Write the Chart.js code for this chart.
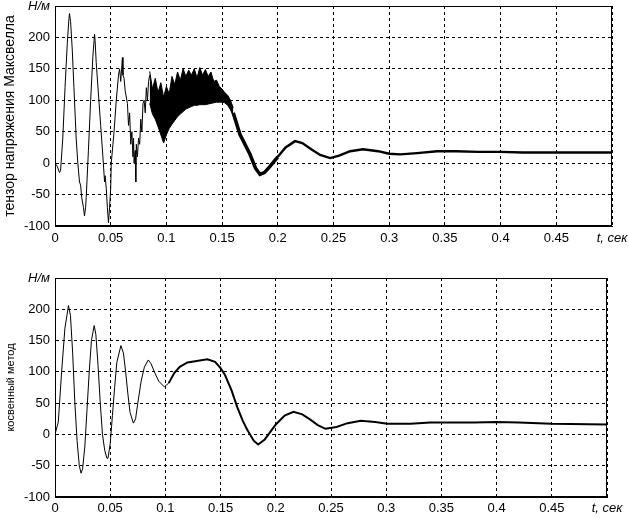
<!DOCTYPE html>
<html>
<head>
<meta charset="utf-8">
<script src="https://cdn.jsdelivr.net/npm/chart.js@4"></script>
<style>
  body { margin: 0; background: #fff; }
  .box { position: absolute; left: 0; width: 629px; }
  #top { top: 0; height: 258px; }
  #bot { top: 258px; height: 260px; }
</style>
</head>
<body>
<div class="box" id="top"><canvas id="maxwell"></canvas></div>
<div class="box" id="bot"><canvas id="indirect"></canvas></div>
<script>
/*
    DATOS
*/
// tensor de Maxwell: tramo inicial (linea fina)
const topEarlyT = [0, 0.002, 0.004, 0.005, 0.007, 0.009, 0.011, 0.0125, 0.013, 0.014, 0.0155, 0.017, 0.019, 0.0205,
  0.022, 0.023, 0.024, 0.0255, 0.0265, 0.0275, 0.028, 0.03, 0.032, 0.034, 0.0355, 0.036, 0.037, 0.039, 0.041, 0.043,
  0.0445, 0.045, 0.046, 0.047, 0.048, 0.049, 0.05, 0.0505, 0.052, 0.053, 0.055, 0.057, 0.058, 0.059, 0.06, 0.0605,
  0.061, 0.062, 0.063, 0.065, 0.066, 0.067, 0.068, 0.069, 0.07, 0.0705, 0.071, 0.072, 0.0725, 0.073, 0.074, 0.075,
  0.076, 0.077, 0.078, 0.079, 0.08, 0.081, 0.082, 0.083, 0.084, 0.085];
const topEarlyV = [0, -5, -15, -12, 40, 120, 190, 230, 238, 225, 180, 120, 40, 0,
  -30, -35, -55, -70, -84, -70, -55, 20, 100, 170, 205, 195, 160, 110, 60, 10,
  -30, -20, -40, -70, -95, -70, -40, 0, 30, 50, 100, 140, 150, 130, 155, 168,
  140, 135, 115, 95, 60, 80, 30, 50, 10, 40, 0, 20, -30, 30, 10, 40,
  30, 70, 50, 95, 100, 80, 120, 100, 130, 140];
// banda de ruido (envolventes superior e inferior)
const bandT = [0.085, 0.0875, 0.09, 0.0925, 0.095, 0.0975, 0.1, 0.1025, 0.105, 0.1075, 0.11, 0.1125, 0.115, 0.1175,
  0.12, 0.1225, 0.125, 0.1275, 0.13, 0.1325, 0.135, 0.1375, 0.14, 0.1425, 0.145, 0.1475, 0.15, 0.1525, 0.155, 0.1575, 0.16];
const bandHi = [146, 118, 135, 112, 128, 105, 122, 110, 138, 125, 145, 132, 150, 138,
  148, 140, 150, 136, 152, 140, 149, 138, 145, 130, 132, 122, 118, 112, 108, 100, 88];
const bandLo = [95, 78, 70, 58, 45, 32, 45, 55, 62, 68, 74, 78, 82, 86,
  88, 90, 92, 92, 93, 93, 93, 94, 95, 96, 97, 97, 97, 96, 92, 85, 75];
// tramo final (linea gruesa)
const topLateT = [0.16, 0.166, 0.175, 0.18, 0.184, 0.188, 0.193, 0.2, 0.207, 0.2155, 0.222, 0.23, 0.238, 0.247,
  0.255, 0.265, 0.2765, 0.29, 0.3, 0.31, 0.325, 0.343, 0.36, 0.38, 0.4, 0.42, 0.45, 0.5];
const topLateV = [80, 46, 14, -8, -18, -15, -5, 10, 25, 35, 32, 22, 13, 8,
  12, 19, 22, 19, 15, 14, 16, 19, 19, 18, 18, 17, 17, 17];

// metodo indirecto
const botT = [0, 0.003, 0.006, 0.009, 0.0122, 0.014, 0.016, 0.018, 0.02, 0.022, 0.0236, 0.025, 0.027, 0.029, 0.031,
  0.033, 0.0355, 0.037, 0.039, 0.041, 0.043, 0.045, 0.047, 0.048, 0.05, 0.052, 0.054, 0.056, 0.0597, 0.062, 0.064,
  0.066, 0.068, 0.071, 0.073, 0.075, 0.078, 0.081, 0.0845, 0.087, 0.09, 0.094, 0.099, 0.103, 0.108, 0.113, 0.12,
  0.127, 0.138, 0.145, 0.15, 0.154, 0.16, 0.165, 0.17, 0.174, 0.18, 0.184, 0.19, 0.2, 0.208, 0.216, 0.224, 0.231,
  0.238, 0.245, 0.255, 0.265, 0.277, 0.29, 0.301, 0.322, 0.34, 0.36, 0.38, 0.4, 0.42, 0.45, 0.5];
const botV = [0, 20, 100, 170, 206, 190, 130, 50, -10, -50, -62, -55, -20, 40, 100,
  150, 174, 160, 110, 50, 0, -25, -38, -38, -15, 30, 75, 115, 142, 130, 100,
  65, 35, 18, 25, 50, 85, 108, 119, 113, 100, 85, 76, 82, 98, 108, 115,
  117, 120, 116, 106, 95, 70, 44, 22, 8, -10, -16, -8, 16, 30, 36, 32, 24,
  15, 9, 12, 18, 22, 20, 17, 17, 19, 19, 19, 20, 19, 17, 16];

const xTickLabels = ['0', '0.05', '0.1', '0.15', '0.2', '0.25', '0.3', '0.35', '0.4', '0.45', 't, сек'];
const yTickLabels = ['-100', '-50', '0', '50', '100', '150', '200', 'Н/м'];

/*
    UTILIDADES
*/
const FONT = '"Liberation Sans", Arial, sans-serif';
const pts = (xs, ys) => xs.map((x, i) => ({ x, y: ys[i] }));

const frame = {
  id: 'frame',
  afterDraw(chart) {
    const { ctx, chartArea: a } = chart;
    ctx.save();
    ctx.strokeStyle = '#000';
    ctx.lineWidth = 1;
    ctx.strokeRect(a.left + 0.5, a.top + 0.5, a.right - a.left - 1, a.bottom - a.top - 1);
    ctx.restore();
  }
};

const lineDs = (data, width, extra) => Object.assign({
  data,
  borderColor: '#000',
  backgroundColor: '#000',
  borderWidth: width,
  pointRadius: 0,
  tension: 0,
  fill: false
}, extra || {});

const drawChart = (id, datasets, opt) => {
  const ctx = document.getElementById(id).getContext('2d');
  return new Chart(ctx, {
    type: 'line',
    data: { datasets },
    plugins: [frame],
    options: {
      responsive: true,
      maintainAspectRatio: false,
      animation: false,
      events: [],
      layout: { padding: { top: opt.padTop, right: opt.padRight, left: 0, bottom: 0 } },
      plugins: { legend: { display: false }, tooltip: { enabled: false } },
      scales: {
        x: {
          type: 'linear',
          min: 0,
          max: 0.5,
          grid: { color: '#000', lineWidth: 1, drawTicks: false },
          border: { color: '#000', dash: [3, 3] },
          ticks: {
            stepSize: 0.05,
            padding: opt.xPad,
            maxRotation: 0,
            autoSkip: false,
            color: '#000',
            font: (c) => ({ family: FONT, size: 13, style: c.index === 10 ? 'italic' : 'normal' }),
            callback: (v, i) => xTickLabels[i]
          },
          afterFit: (s) => { s.height = opt.xHeight; s.paddingLeft = 0; s.paddingRight = 0; }
        },
        y: {
          min: -100,
          max: 250,
          grid: { color: '#000', lineWidth: 1, drawTicks: false },
          border: { color: '#000', dash: [3, 3] },
          ticks: {
            stepSize: 50,
            padding: 5,
            color: '#000',
            font: (c) => ({ family: FONT, size: 13, style: c.index === 7 ? 'italic' : 'normal' }),
            callback: (v, i) => yTickLabels[i]
          },
          title: {
            display: true,
            text: opt.title,
            color: '#000',
            font: { family: FONT, size: opt.titleSize },
            padding: { top: opt.titlePad, bottom: 0 }
          },
          afterFit: (s) => { s.width = 55; s.paddingTop = 0; s.paddingBottom = 0; }
        }
      }
    }
  });
};

/*
    GRAFICOS
*/
drawChart('maxwell', [
  lineDs(pts(topEarlyT, topEarlyV), 1),
  lineDs(pts(bandT, bandHi), 1),
  lineDs(pts(bandT, bandLo), 1, { fill: '-1' }),
  lineDs(pts(topLateT, topLateV), 2.6, {
    segment: { borderWidth: (c) => (c.p0.parsed.x < 0.2 ? 3.5 : 2.4) }
  })
], { title: 'тензор напряжения Максвелла', titleSize: 14, titlePad: 2, padTop: 6, padRight: 17, xHeight: 32, xPad: 5 });

drawChart('indirect', [
  lineDs(pts(botT, botV), 1, {
    segment: { borderWidth: (c) => (c.p0.parsed.x >= 0.1 ? 2 : 1) }
  })
], { title: 'косвенный метод', titleSize: 11, titlePad: 4, padTop: 20, padRight: 22, xHeight: 21, xPad: 4 });
</script>
</body>
</html>
